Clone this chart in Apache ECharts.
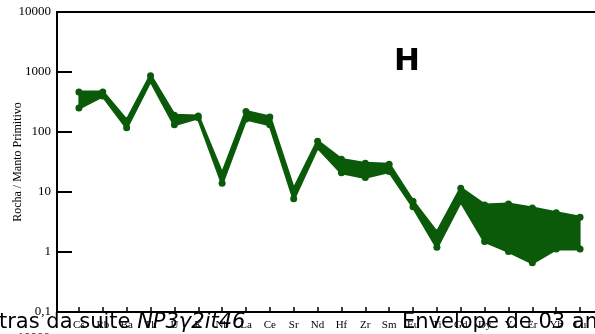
<!DOCTYPE html>
<html>
<head>
<meta charset="utf-8">
<script src="https://cdn.jsdelivr.net/npm/echarts@6/dist/echarts.min.js"></script>
<style>html,body{margin:0;padding:0;background:#fff;}#c{width:595px;height:334px;}</style>
</head>
<body>
<div id="c"></div>
<script>
var categories = ['Cs','Rb','Ba','Th','U','K','Nb','La','Ce','Sr','Nd','Hf','Zr','Sm','Eu','Ti','Gd','Dy','Y','Er','Yb','Lu'];
var envMax = [465, 465, 155, 870, 190, 185, 20, 220, 178, 11, 70, 35, 30, 29, 7, 2.1, 11.5, 6.1, 6.3, 5.4, 4.5, 3.8];
var envMin = [250, 400, 118, 720, 132, 172, 14, 165, 132, 7.7, 56, 21, 17.5, 22, 5.7, 1.2, 7, 1.5, 1.02, 0.66, 1.12, 1.12];
var yTickMin = 0.1, yTickMax = 10000;

var GREEN = '#0a5a0a';
var chart = echarts.init(document.getElementById('c'), null, {renderer: 'canvas'});

function fmt(v) {
  if (v < 1) return String(+v.toPrecision(3)).replace('.', ',');
  return String(Math.round(v));
}

var option = {
  animation: false,
  backgroundColor: '#fff',
  grid: [
    {left: 67, right: 3, top: 12, bottom: 22, containLabel: false, outerBoundsMode: 'none'},
    {left: 57, right: 0, top: 12, bottom: 22, containLabel: false, outerBoundsMode: 'none'}
  ],
  xAxis: [
    {gridIndex: 0, type: 'category', data: categories, boundaryGap: true,
     axisLine: {show: false},
     axisTick: {show: true, inside: true, length: 5, alignWithLabel: true, lineStyle: {color: '#000', width: 1.5}},
     axisLabel: {interval: 0, fontFamily: 'Liberation Serif', fontSize: 11, color: '#000', margin: 8},
     splitLine: {show: false}},
    {gridIndex: 1, type: 'value', position: 'bottom', min: 0, max: 1,
     axisLine: {show: true, lineStyle: {color: '#000', width: 2}},
     axisTick: {show: false}, axisLabel: {show: false}, splitLine: {show: false}},
    {gridIndex: 1, type: 'value', position: 'top', min: 0, max: 1,
     axisLine: {show: true, lineStyle: {color: '#000', width: 2}},
     axisTick: {show: false}, axisLabel: {show: false}, splitLine: {show: false}}
  ],
  yAxis: [
    {gridIndex: 0, type: 'log', logBase: 10, min: yTickMin, max: yTickMax, show: false},
    {gridIndex: 1, type: 'log', logBase: 10, min: yTickMin, max: yTickMax,
     axisLine: {show: true, lineStyle: {color: '#000', width: 2}},
     axisTick: {show: true, inside: true, length: 15, lineStyle: {color: '#000', width: 2}},
     minorTick: {show: false},
     splitLine: {show: false},
     axisLabel: {fontFamily: 'Liberation Serif', fontSize: 13, color: '#000', margin: 6, formatter: fmt},
     name: 'Rocha / Manto Primitivo', nameLocation: 'middle', nameGap: 33, nameMoveOverlap: false,
     nameTextStyle: {fontFamily: 'Liberation Serif', fontSize: 12, color: '#000'}}
  ],
  series: [
    {
      type: 'custom', xAxisIndex: 0, yAxisIndex: 0, silent: true, z: 1,
      data: [[0, envMax[0]]],
      renderItem: function (params, api) {
        var pts = [];
        for (var i = 0; i < categories.length; i++) pts.push(api.coord([i, envMax[i]]));
        for (var j = categories.length - 1; j >= 0; j--) pts.push(api.coord([j, envMin[j]]));
        return {type: 'polygon', shape: {points: pts}, style: {fill: GREEN, stroke: GREEN, lineWidth: 1}};
      }
    },
    {type: 'line', name: 'max', xAxisIndex: 0, yAxisIndex: 0, data: envMax, z: 3,
     symbol: 'circle', symbolSize: 7, itemStyle: {color: GREEN},
     lineStyle: {color: GREEN, width: 3}},
    {type: 'line', name: 'min', xAxisIndex: 0, yAxisIndex: 0, data: envMin, z: 3,
     symbol: 'circle', symbolSize: 7, itemStyle: {color: GREEN},
     lineStyle: {color: GREEN, width: 3}}
  ],
  graphic: [
    {type: 'text', left: 394, top: 46, z: 10,
     style: {text: 'H', fontFamily: 'DejaVu Sans', fontWeight: 'bold', fontSize: 31, fill: '#000'}},
    {type: 'text', x: 50, y: 331, z: 10,
     style: {text: '10000', fontFamily: 'Liberation Serif', fontSize: 13, fill: '#000', textAlign: 'right', textVerticalAlign: 'top'}},
    {type: 'text', x: -1, y: 312, z: 10,
     style: {text: '{n|tras da suite }{i|NP3γ2it46}', textVerticalAlign: 'top',
       rich: {n: {fontFamily: 'DejaVu Sans', fontSize: 21, fill: '#000'},
              i: {fontFamily: 'DejaVu Sans', fontStyle: 'italic', fontSize: 21, fill: '#000'}}}},
    {type: 'text', x: 402, y: 312, z: 10,
     style: {text: 'Envelope de 03 amostras', fontFamily: 'DejaVu Sans', fontSize: 21, fill: '#000', textVerticalAlign: 'top'}}
  ]
};
chart.setOption(option);
</script>
</body>
</html>
